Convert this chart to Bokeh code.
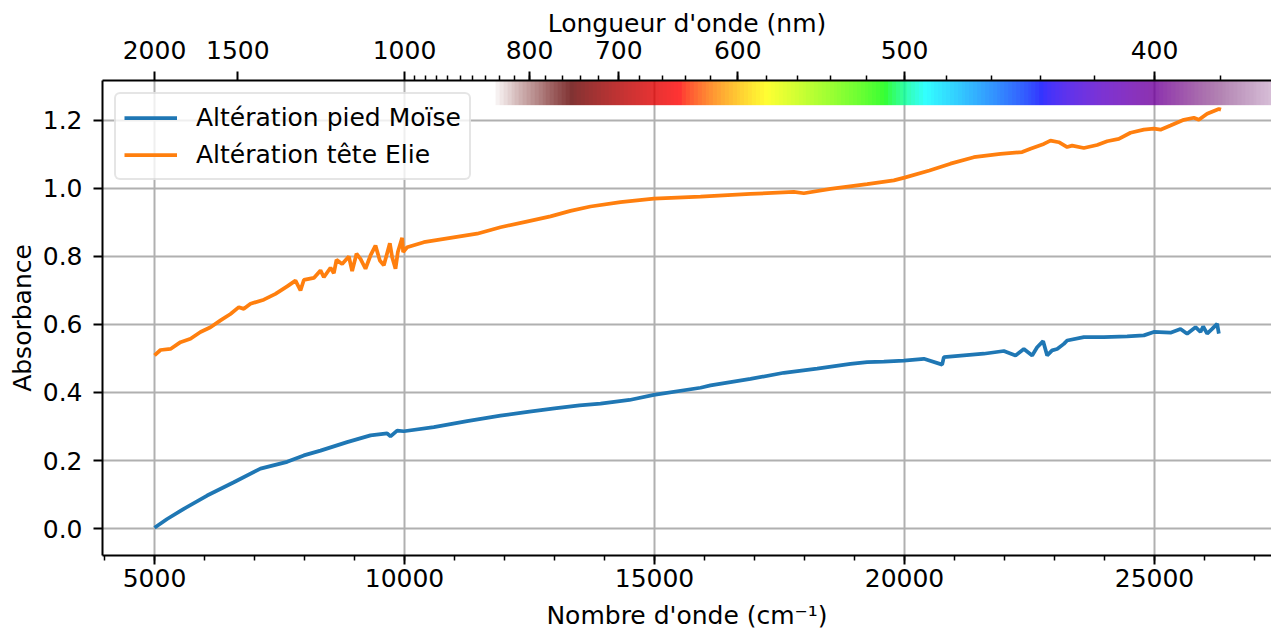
import numpy as np
from bokeh.plotting import figure
from bokeh.models import LinearAxis, FixedTicker, CustomJSTickFormatter, Range1d
from bokeh.embed import file_html
from bokeh.resources import INLINE

# ---------------- data ----------------
wn_moise = [5000, 5253, 5587, 6053, 6587, 7120, 7653, 7987, 8320, 8853, 9320, 9653, 9720,
            9853, 9987, 10587, 11253, 11920, 12500, 13000, 13500, 13920, 14500, 14987, 15920,
            16120, 16920, 17587, 18253, 18920, 19253, 19587, 19987, 20387, 20753,
            20787, 21187, 21587, 21987, 22220, 22387, 22553, 22653, 22773, 22853, 22953, 23053,
            23187, 23253, 23587, 23987, 24453, 24787, 24987, 25320, 25520, 25653, 25820, 25920,
            25973, 26053, 26153, 26253, 26287]
abs_moise = [0.002, 0.028, 0.058, 0.097, 0.136, 0.176, 0.196, 0.215, 0.229, 0.254, 0.274, 0.280, 0.271,
             0.288, 0.286, 0.298, 0.316, 0.332, 0.344, 0.353, 0.362, 0.367, 0.378, 0.393, 0.414,
             0.421, 0.440, 0.458, 0.470, 0.484, 0.489, 0.491, 0.494, 0.499, 0.482,
             0.504, 0.509, 0.514, 0.522, 0.509, 0.528, 0.509, 0.533, 0.551, 0.509, 0.524, 0.528,
             0.543, 0.553, 0.563, 0.563, 0.565, 0.568, 0.578, 0.576, 0.587, 0.573, 0.592, 0.578,
             0.594, 0.573, 0.587, 0.602, 0.573]

wn_elie = [5000, 5120, 5320, 5520, 5720, 5920, 6120, 6320, 6520, 6687, 6787, 6920, 7187, 7420,
           7653, 7820, 7920, 7987, 8187, 8320, 8387, 8520, 8587, 8640, 8753, 8887, 8953, 9040,
           9120, 9220, 9320, 9420, 9507, 9587, 9707, 9753, 9820, 9867, 9953, 9973, 10053, 10387,
           10920, 11453, 11920, 12420, 12920, 13320, 13720, 14320, 14987, 15920, 16920, 17787,
           17987, 18520, 19253, 19787, 20000, 20500, 20920, 21387, 21920, 22353, 22520, 22787,
           22920, 23087, 23253, 23353, 23587, 23853, 24053, 24287, 24520, 24787, 24987, 25120,
           25320, 25587, 25787, 25887, 26053, 26287, 26330]
abs_elie = [0.509, 0.525, 0.528, 0.548, 0.558, 0.578, 0.592, 0.612, 0.631, 0.651, 0.646, 0.661, 0.673, 0.690,
            0.712, 0.729, 0.700, 0.731, 0.737, 0.759, 0.739, 0.767, 0.751, 0.790, 0.778, 0.800, 0.757, 0.808,
            0.793, 0.764, 0.803, 0.832, 0.788, 0.774, 0.839, 0.798, 0.764, 0.813, 0.855, 0.813, 0.827, 0.842,
            0.855, 0.867, 0.886, 0.902, 0.918, 0.934, 0.947, 0.960, 0.970, 0.976, 0.984, 0.990,
            0.986, 0.999, 1.013, 1.024, 1.032, 1.053, 1.073, 1.092, 1.102, 1.107, 1.117, 1.131,
            1.141, 1.136, 1.122, 1.126, 1.119, 1.128, 1.139, 1.146, 1.164, 1.173, 1.176, 1.173,
            1.185, 1.202, 1.208, 1.202, 1.220, 1.234, 1.232]

series_names = ["Altération pied Moïse", "Altération tête Elie"]

bottom_major = [5000, 10000, 15000, 20000, 25000]
bottom_minor = list(range(4000, 28000, 1000))
left_ticks = [0.0, 0.2, 0.4, 0.6, 0.8, 1.0, 1.2]
top_major_nm = [2000, 1500, 1000, 800, 700, 600, 500, 400]
top_minor_nm = list(range(380, 1000, 20))
spectrum_nm_start = 846

# ---------------- layout / style ----------------
FONT = "DejaVu Sans"
FS = "25px"
X0, X1 = 3960, 27340
Y0, Y1 = -0.0794, 1.3176
BAR_BOTTOM = 1.245

p = figure(width=1271, height=634,
           min_border_left=102, min_border_right=0, min_border_top=80, min_border_bottom=79,
           x_range=Range1d(X0, X1), y_range=Range1d(Y0, Y1),
           output_backend="svg", toolbar_location=None)
p.outline_line_color = None
p.background_fill_color = "white"
p.border_fill_color = "white"

# grid
p.xgrid.ticker = FixedTicker(ticks=bottom_major)
p.ygrid.ticker = FixedTicker(ticks=left_ticks)
for g in (p.xgrid, p.ygrid):
    g.grid_line_color = "#b0b0b0"
    g.grid_line_width = 2


def style_axis(ax):
    ax.axis_line_color = "black"
    ax.axis_line_width = 2
    ax.major_tick_line_color = "black"
    ax.major_tick_line_width = 2
    ax.major_tick_out = 9
    ax.major_tick_in = 0
    ax.minor_tick_line_color = "black"
    ax.minor_tick_line_width = 1.5
    ax.minor_tick_out = 5
    ax.minor_tick_in = 0
    ax.major_label_text_font = FONT
    ax.major_label_text_font_size = FS
    ax.major_label_text_color = "black"
    ax.axis_label_text_font = FONT
    ax.axis_label_text_font_size = FS
    ax.axis_label_text_font_style = "normal"
    ax.axis_label_text_color = "black"


# bottom axis
xa = p.xaxis[0]
style_axis(xa)
xa.ticker = FixedTicker(ticks=bottom_major, minor_ticks=bottom_minor)
xa.axis_label = "Nombre d'onde (cm⁻¹)"
xa.major_label_standoff = 4
xa.axis_label_standoff = 11

# left axis
ya = p.yaxis[0]
style_axis(ya)
ya.ticker = FixedTicker(ticks=left_ticks)
ya.formatter = CustomJSTickFormatter(code="return tick.toFixed(1);")
ya.axis_label = "Absorbance"
ya.major_label_standoff = 11
ya.axis_label_standoff = 3

# top axis: wavelength in nm
top_major_wn = [1e7 / w for w in top_major_nm]
top_minor_wn = [1e7 / w for w in top_minor_nm]
ta = LinearAxis(ticker=FixedTicker(ticks=top_major_wn, minor_ticks=top_minor_wn),
                formatter=CustomJSTickFormatter(code="return (1e7/tick).toFixed(0);"),
                axis_label="Longueur d'onde (nm)")
style_axis(ta)
ta.major_label_standoff = 13
ta.axis_label_standoff = 0
p.add_layout(ta, "above")


# visible spectrum strip
def wl_rgba(wl, gamma=0.8):
    w = min(max(wl, 380.0), 750.0)
    if w < 440:
        att = 0.3 + 0.7 * (w - 380) / 60
        r, g, b = ((440 - w) / 60 * att) ** gamma, 0.0, att ** gamma
    elif w < 490:
        r, g, b = 0.0, ((w - 440) / 50) ** gamma, 1.0
    elif w < 510:
        r, g, b = 0.0, 1.0, ((510 - w) / 20) ** gamma
    elif w < 580:
        r, g, b = ((w - 510) / 70) ** gamma, 1.0, 0.0
    elif w < 645:
        r, g, b = 1.0, ((645 - w) / 65) ** gamma, 0.0
    else:
        att = 0.3 + 0.7 * (750 - w) / 105
        r, g, b = att ** gamma, 0.0, 0.0
    if wl > 750:
        a = 0.8 * max(0.0, (850 - wl) / 100)
    elif wl < 400:
        a = 0.8 * max(0.0, (wl - 350) / 50)
    else:
        a = 0.8
    return r, g, b, a


spec_x0 = 1e7 / spectrum_nm_start
ncol = 200
edges = np.linspace(spec_x0, X1, ncol + 1)
centers = 0.5 * (edges[:-1] + edges[1:])
img = np.zeros((1, ncol), dtype=np.uint32)
view = img.view(dtype=np.uint8).reshape((1, ncol, 4))
for i, c in enumerate(centers):
    r, g, b, a = wl_rgba(1e7 / c)
    view[0, i, 0] = int(round(r * 255))
    view[0, i, 1] = int(round(g * 255))
    view[0, i, 2] = int(round(b * 255))
    view[0, i, 3] = int(round(a * 255))
p.image_rgba(image=[img], x=spec_x0, y=BAR_BOTTOM, dw=X1 - spec_x0, dh=Y1 - BAR_BOTTOM)

# spectra
p.line(wn_moise, abs_moise, line_color="#1f77b4", line_width=3.75, legend_label=series_names[0])
p.line(wn_elie, abs_elie, line_color="#ff7f0e", line_width=3.75, legend_label=series_names[1])

lg = p.legend[0]
lg.location = "top_left"
lg.margin = 12
lg.padding = 8
lg.spacing = 6
lg.glyph_width = 53
lg.glyph_height = 31
lg.label_standoff = 19
lg.label_text_font = FONT
lg.label_text_font_size = FS
lg.label_text_color = "black"
lg.label_height = 31
lg.border_line_color = "#cccccc"
lg.border_line_width = 2
lg.background_fill_color = "white"
lg.background_fill_alpha = 0.8
try:
    lg.border_radius = 6
except Exception:
    pass

open("out.html", "w").write(file_html(p, INLINE))
